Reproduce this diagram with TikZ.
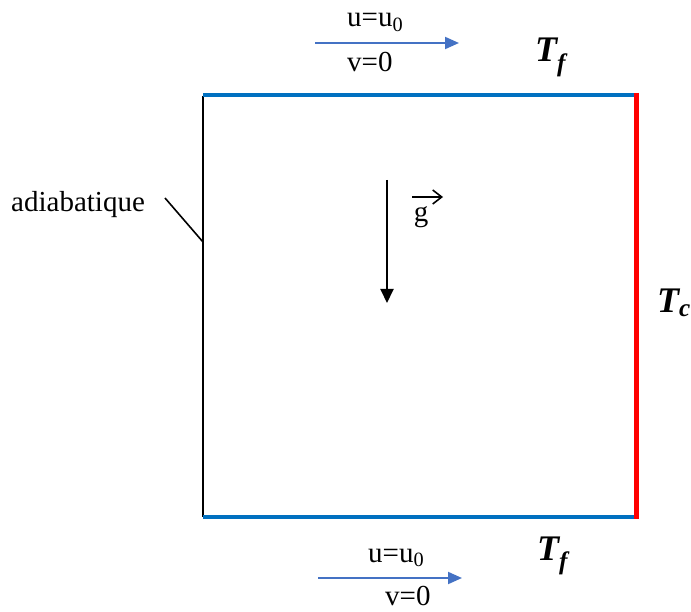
\documentclass[tikz,border=0pt]{standalone}
\usepackage{fontspec}
\setmainfont{Liberation Serif}
\usetikzlibrary{arrows.meta}
\definecolor{wallblue}{RGB}{0,112,192}
\definecolor{flowblue}{RGB}{68,114,196}
\definecolor{hotred}{RGB}{255,0,0}
\tikzset{
  lbl/.style={anchor=base west, inner sep=0pt, font=\fontsize{29}{34}\selectfont},
  tlbl/.style={anchor=base west, inner sep=0pt, font=\fontsize{36}{40}\selectfont\bfseries\itshape},
  flow/.style={draw=flowblue, line width=2pt, -{Triangle[length=14pt,width=12pt]}},
  coldwall/.style={draw=wallblue, line width=3.5pt},
  hotwall/.style={draw=hotred, line width=5pt},
  adiawall/.style={draw=black, line width=1.6pt},
  grav/.style={draw=black, line width=2pt, -{Triangle[length=14pt,width=13pt]}},
}
\begin{document}
\begin{tikzpicture}[x=1pt,y=-1pt]
\useasboundingbox (0,0) rectangle (691,612);
% cavity corners
\coordinate (A) at (203,95);
\coordinate (B) at (636,95);
\coordinate (C) at (636,517);
\coordinate (D) at (203,517);
% walls
\draw[adiawall] (203,96) coordinate (A1) -- (203,517) coordinate (D1);
\draw[coldwall] (A) -- (B);
\draw[coldwall] (D) -- (C);
\draw[hotwall] (636,93) coordinate (B1) -- (636,519) coordinate (C1);
% top labels
\node[lbl] (ut) at (347,27) {u=u\textsubscript{0}};
\node[lbl] (vt) at (347,72) {v=0};
\coordinate (fts) at (315,43);
\coordinate (fte) at (459,43);
\draw[flow] (fts) -- (fte);
\node[tlbl] (tft) at (535,62) {T\textsubscript{f}};
% bottom labels
\node[lbl] (ub) at (368,562) {u=u\textsubscript{0}};
\node[lbl] (vb) at (385,605) {v=0};
\coordinate (fbs) at (318,578);
\coordinate (fbe) at (462,578);
\draw[flow] (fbs) -- (fbe);
\node[tlbl] (tfb) at (537,560) {T\textsubscript{f}};
% hot label
\node[tlbl] (tc) at (657,313) {T\textsubscript{c}};
% adiabatic label
\node[lbl] (adia) at (11,212) {adiabatique};
\coordinate (ap) at (203,242);
\draw[line width=1.6pt] (165,198) -- (ap);
% gravity
\coordinate (gs) at (387,180);
\coordinate (ge) at (387,303);
\draw[grav] (gs) -- (ge);
\node[lbl, anchor=base] (g) at (421,222) {g};
\coordinate (gvs) at (412,197);
\coordinate (gve) at (443,197);
\draw[line width=1.6pt, -{Straight Barb[length=9pt,width=14pt]}] (gvs) -- (gve);
\end{tikzpicture}
\end{document}
